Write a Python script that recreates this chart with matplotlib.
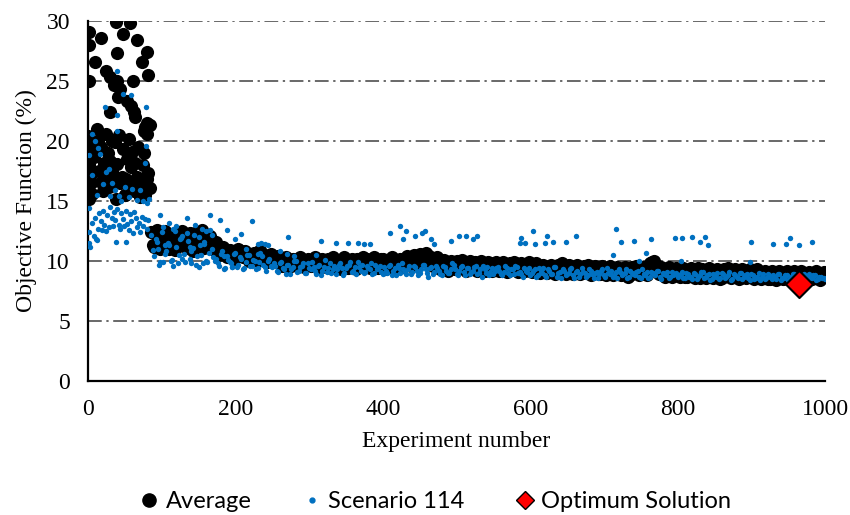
import numpy as np
import matplotlib.pyplot as plt
from matplotlib.lines import Line2D

# Average - first random experiments (x, y)
avg_start_x = [1, 1, 1, 9, 18, 38, 57, 48, 39, 66, 80, 73, 82, 61, 25, 30, 35, 39, 41, 43,
               59, 62, 30, 80, 76, 78, 53, 64, 84, 80,
               0, 1, 2, 3, 4, 2, 5, 6, 8, 12, 14, 15, 17, 18, 20, 22, 24, 25, 27,
               28, 30, 32, 33, 35, 36, 38, 40, 42, 44, 46, 48, 50, 51, 53, 55, 57, 58, 60,
               62, 64, 66, 68, 70, 72, 74, 76, 78, 80, 82, 84, 75, 50]
avg_start_y = [29.1, 28.0, 25.0, 26.6, 28.6, 29.9, 29.8, 28.9, 27.3, 28.4, 27.4, 26.6, 25.5, 25.0, 25.8,
               25.3, 24.7, 25.0, 23.7, 24.3, 22.9, 22.4, 22.4, 21.5, 20.8, 21.2, 23.3, 22.0, 21.3, 20.6,
               20.4, 19.8, 18.0, 17.1, 16.5, 15.2, 15.6, 19.2, 18.7, 21.0, 20.0, 17.5, 16.6, 19.5,
               15.8, 18.2, 20.6, 17.0, 19.0, 16.2, 18.3, 20.0, 17.5, 16.8, 19.9, 15.2, 18.1, 20.5,
               16.5, 17.0, 19.3, 15.5, 16.8, 18.5, 20.2, 16.4, 17.8, 19.1, 15.8, 18.2, 17.0, 19.5,
               15.3, 16.5, 18.0, 19.0, 15.5, 16.8, 17.3, 16.1, 15.8, 15.5]

# Average - experiments 85 to 995 (every 5), two passes
avg_band_start = 85
avg_band_y = [12.4, 11.2, 12.1, 11.6, 12.5, 11.0, 11.8, 12.2, 11.4, 12.0, 11.1, 11.9, 12.3, 11.5, 12.6, 11.3, 12.1, 11.2,
              11.1, 10.6, 11.0, 10.4, 10.8, 10.5, 10.9, 10.3, 10.6, 10.2, 10.7, 10.4, 10.1, 10.5, 10.2, 10.4,
              10.0, 10.3, 9.8, 10.2, 9.9, 10.1, 9.7, 10.2, 9.9, 10.0,
              9.8, 10.1, 9.6, 9.9, 10.2, 9.7, 9.9, 10.0, 9.6, 10.1, 9.8, 9.7, 10.2, 9.9, 9.6, 10.0, 9.8, 10.1, 9.7, 10.2, 9.9, 9.6, 10.0, 9.8,
              10.1, 9.7, 10.2, 9.9, 10.4, 10.6, 10.3, 9.9, 10.1, 9.7,
              9.9, 9.5, 9.8, 9.4, 9.7, 10.0, 9.5, 9.8, 9.3, 9.6, 9.9, 9.4, 9.7, 9.5, 9.8, 9.3, 9.6, 9.4, 9.7, 9.2, 9.5, 9.8, 9.3, 9.6, 9.4, 9.6,
              9.3, 9.6, 9.1, 9.4, 9.2, 9.5, 9.0, 9.3, 9.6, 9.1, 9.4, 9.2, 9.5, 9.0, 9.3, 9.1, 9.4, 9.2, 8.9, 9.3,
              9.1, 9.4, 8.9, 9.2, 9.0, 9.3, 8.8, 9.1, 9.4, 9.0, 9.2, 9.6, 9.9, 9.3, 8.9, 9.1, 8.8, 9.2, 9.0, 8.9,
              9.1, 8.7, 9.0, 8.8, 9.2, 8.6, 8.9, 9.1, 8.7, 9.0, 8.8, 8.6, 9.1, 8.9, 8.7, 9.0, 8.6, 8.8, 9.1, 8.7,
              8.9, 8.6, 8.8, 9.0, 8.5, 8.7, 8.9, 8.6, 8.8, 8.5, 8.7, 8.9, 8.6, 8.8, 8.5, 8.7, 8.9, 8.6, 8.8]
avg_band2_start = 88
avg_band2_y = [11.3, 12.6, 11.0, 12.4, 11.5, 12.2, 10.9, 11.6, 12.5, 11.2, 12.3, 10.8, 11.7, 12.4, 11.1, 12.0, 11.0, 11.6,
               10.5, 11.2, 10.3, 10.9, 10.2, 11.0, 10.4, 10.8, 10.0, 10.6, 10.1, 10.9, 10.3, 9.9, 10.6, 10.0,
               10.4, 9.6, 10.3, 9.5, 10.2, 9.6, 10.3, 9.5, 10.2, 9.6,
               10.3, 9.4, 10.2, 9.5, 9.4, 10.3, 9.5, 9.3, 10.3, 9.4, 10.2, 9.3, 9.5, 10.3, 10.2, 9.4, 10.3, 9.4, 10.2, 9.3, 9.5, 10.3, 9.4, 10.2,
               9.5, 10.4, 9.6, 10.5, 9.8, 10.2, 10.7, 10.4, 9.6, 10.3,
               9.3, 10.1, 9.2, 10.0, 9.3, 9.4, 10.1, 9.2, 10.0, 9.3, 9.2, 10.0, 9.2, 9.9, 9.2, 9.9, 9.2, 9.9, 9.1, 9.8, 9.9, 9.1, 9.8, 9.2, 9.9, 9.1,
               9.8, 9.0, 9.7, 9.0, 9.7, 8.9, 9.7, 9.8, 8.9, 9.7, 8.9, 9.7, 8.9, 9.6, 9.7, 8.8, 9.6, 8.9, 9.6, 8.8,
               9.6, 8.8, 9.5, 8.8, 9.5, 8.7, 9.5, 9.6, 8.8, 9.5, 8.8, 9.8, 10.0, 9.6, 9.5, 8.7, 9.5, 8.7, 9.4, 8.7,
               9.4, 8.7, 9.4, 8.6, 9.4, 9.3, 8.6, 9.4, 8.6, 9.3, 8.5, 9.3, 9.4, 8.6, 9.3, 8.5, 9.3, 8.6, 9.3, 8.5,
               9.3, 8.5, 9.2, 8.5, 9.2, 8.4, 9.2, 8.5, 9.2, 8.4, 9.2, 8.5, 9.2, 8.4, 9.1, 8.5, 9.2, 8.4, 9.1]

# Scenario 114 - scattered points (x, y)
sc_extra_x = [1, 3, 2, 5, 8, 9, 11, 13, 15, 17, 19, 21, 22, 24, 26, 28, 30, 32, 34, 35, 37, 38, 40, 42,
              44, 45, 47, 49, 51, 53, 55, 57, 59, 61, 63, 65, 67, 69, 71, 73, 75, 78, 80, 82,
              40, 59, 47, 23, 79, 39, 40, 79, 78, 16, 5, 1, 5, 12, 2, 9, 14, 24, 28, 33, 36, 42, 50,
              55, 60, 66, 70, 75, 83, 20, 30, 80, 45, 52, 12,
              98, 134, 166, 179, 189, 207, 222, 235, 244, 110, 120, 145, 155, 102, 115, 128, 140, 150,
              160, 125, 105, 95, 138, 158, 168, 200, 215, 230, 260, 195, 185, 270, 280, 231, 240, 309,
              272, 316, 337, 353, 367, 374, 383, 410, 424, 432, 427, 444, 453, 457, 465, 469, 493, 503,
              513, 522, 528, 586, 587, 593, 604, 606, 620, 623, 631, 649, 662, 717, 723, 741, 764, 713,
              757, 747, 796, 806, 819, 831, 837, 841, 804, 900, 930, 947, 953, 965, 983, 898]
sc_extra_y = [11.5, 11.2, 12.4, 13.2, 12.1, 13.6, 11.8, 12.7, 14.0, 13.3, 12.6, 14.2, 13.0, 12.5, 13.8,
              12.8, 14.5, 13.6, 12.9, 14.1, 13.4, 11.6, 14.3, 13.0, 12.7, 14.0, 13.5, 12.9, 14.2, 13.1,
              12.6, 13.9, 13.3, 12.3, 14.1, 13.6, 12.8, 13.2, 12.4, 13.7, 12.9, 13.5, 12.7, 13.4,
              25.8, 23.8, 23.9, 22.8, 22.8, 22.2, 20.8, 19.6, 18.2, 18.9, 20.6, 18.8, 17.2, 15.5, 14.4,
              20.0, 19.4, 17.4, 17.7, 16.5, 15.9, 15.4, 16.2, 15.3, 16.0, 15.1, 15.9, 15.0, 15.2, 16.4,
              15.4, 14.8, 15.0, 11.6, 11.75,
              13.8, 13.55, 13.8, 13.4, 12.6, 12.25, 13.3, 11.5, 11.3, 13.2, 12.9, 13.0, 12.7, 9.9, 9.6,
              10.2, 9.8, 9.5, 10.0, 11.8, 11.3, 11.0, 11.2, 11.6, 12.2, 11.8, 11.0, 10.6, 10.8, 9.5, 10.4,
              10.6, 10.4, 11.4, 11.4, 10.5,
              12.0, 11.7, 11.5, 11.5, 11.5, 11.4, 11.4, 12.3, 12.9, 12.5, 11.8, 12.1, 12.3, 12.5, 11.8,
              11.4, 11.7, 12.1, 12.1, 11.8, 12.1, 11.5, 11.9, 11.5, 12.5, 11.4, 11.5, 12.1, 11.6, 11.6,
              12.1, 12.7, 11.6, 11.7, 11.8, 10.5, 10.7, 10.0, 11.9, 11.9, 12.0, 11.6, 12.0, 11.3, 10.0,
              11.6, 11.4, 11.4, 11.9, 11.3, 11.6, 9.9]

# Scenario 114 - experiments 86 to 998 (every 4), two passes
sc_band_start = 86
sc_band_y = [12.2, 10.4, 11.6, 9.9, 12.8, 10.8, 11.3, 10.1, 12.5, 9.8, 11.9, 10.6, 12.3, 10.2, 11.1, 9.7, 12.0, 10.5, 11.4, 9.9, 12.6, 10.3,
             10.2, 9.6, 10.8, 9.4, 10.1, 9.8, 10.6, 9.5, 10.3, 9.3, 9.9, 10.5, 9.6, 10.0, 9.4, 10.7, 9.7, 9.2, 10.2, 9.5,
             9.6, 9.1, 9.9, 9.3, 9.7, 8.9, 9.5, 10.0, 9.2, 9.6, 9.0, 9.8, 9.3, 9.5, 8.9, 9.7, 9.2, 10.1, 9.4, 9.0, 9.6,
             9.3, 9.8, 8.8, 9.4, 9.7, 9.1, 9.5, 9.9, 9.2, 9.0, 9.6, 9.3, 8.9, 9.7, 9.4, 9.1,
             9.5, 9.0, 9.7, 9.2, 8.8, 9.4, 9.8, 9.1, 9.3, 8.9, 9.6, 9.2, 9.0, 9.7, 9.3, 8.7, 9.5, 9.1, 9.4, 8.9,
             9.6, 9.2, 9.0, 9.8, 9.3, 8.8, 9.5, 9.1, 9.4, 8.9, 9.2, 9.6, 9.0, 8.7, 9.3, 9.5, 9.1, 8.9, 9.4, 9.2,
             8.8, 9.6, 9.0, 9.3, 8.9, 9.5, 9.1, 8.7, 9.2, 9.4,
             9.0, 9.3, 8.8, 9.1, 9.4, 8.7, 9.2, 8.9, 9.5, 9.0, 8.6, 9.2, 8.9, 9.3, 8.8, 9.1, 8.7, 9.4, 9.0, 8.8,
             9.2, 8.6, 9.1, 8.9, 9.3, 8.7, 9.0, 9.2, 8.8, 8.6, 9.1, 8.9, 9.3, 8.7, 9.0, 8.8, 9.2, 8.6, 8.9, 9.1,
             8.7, 9.0, 8.8, 9.2, 8.5, 8.9, 9.1, 8.7, 8.8, 9.0,
             8.8, 9.1, 8.6, 8.9, 8.7, 9.0, 8.5, 8.8, 9.1, 8.7, 8.9, 8.5, 8.8, 9.0, 8.6, 8.9, 8.7, 9.1, 8.5, 8.8,
             8.6, 9.0, 8.7, 8.9, 8.4, 8.8, 8.6, 9.0, 8.7, 8.5, 8.9, 8.7, 8.8, 8.5, 8.9, 8.6, 8.8, 8.4, 8.7, 8.9,
             8.6, 8.8, 8.5, 8.7, 8.9, 8.6, 8.8, 8.5, 8.7, 8.6]
sc_band2_start = 88
sc_band2_y = [10.9, 11.8, 9.7, 12.4, 10.6, 11.5, 10.0, 12.7, 11.2, 10.5, 12.1, 9.9, 11.7, 10.8, 12.2, 10.4, 11.3, 9.8, 12.5, 10.7, 11.0, 10.0,
              9.8, 10.6, 9.3, 10.4, 9.9, 9.5, 10.7, 9.7, 10.2, 9.4, 10.5, 9.6, 10.1, 9.3, 9.9, 10.4, 9.5, 10.0, 9.6, 9.8,
              9.2, 9.8, 9.4, 8.9, 9.7, 9.3, 10.0, 9.1, 9.5, 9.8, 9.0, 9.4, 9.9, 9.2, 9.6, 8.8, 9.5, 9.1, 9.8, 9.3, 8.9,
              9.7, 9.4, 9.0, 9.6, 9.9, 9.2, 8.9, 9.5, 9.7, 9.1, 9.4, 9.8, 9.0, 9.3, 9.6, 8.9,
              9.2, 9.6, 8.8, 9.4, 9.7, 9.0, 9.3, 8.9, 9.6, 9.1, 9.5, 8.8, 9.3, 9.7, 9.0, 9.4, 8.9, 9.6, 9.2, 8.8,
              9.5, 9.0, 9.3, 9.7, 8.9, 9.2, 9.6, 8.8, 9.4, 9.1, 9.5, 8.9, 9.3, 9.6, 9.0, 8.8, 9.4, 9.2, 9.5, 8.9,
              9.1, 9.4, 8.8, 9.3, 9.6, 9.0, 8.9, 9.4, 9.1, 8.8,
              9.2, 8.7, 9.4, 9.0, 8.8, 9.3, 8.9, 9.5, 8.7, 9.1, 9.3, 8.8, 9.0, 9.4, 8.6, 9.2, 8.9, 9.1, 8.7, 9.3,
              8.9, 9.0, 8.6, 9.2, 8.8, 9.4, 8.9, 8.7, 9.1, 9.3, 8.8, 9.0, 8.6, 9.2, 8.9, 9.1, 8.7, 9.3, 8.8, 8.6,
              9.1, 8.9, 9.2, 8.7, 9.0, 8.8, 8.6, 9.1, 8.9, 8.7,
              8.9, 8.6, 9.0, 8.7, 8.5, 8.9, 8.7, 9.1, 8.6, 8.8, 8.4, 8.9, 8.7, 8.5, 9.0, 8.6, 8.8, 8.4, 8.9, 8.7,
              9.0, 8.5, 8.8, 8.6, 8.9, 8.5, 8.7, 8.4, 8.9, 8.6, 8.8, 8.5, 8.7, 8.9, 8.4, 8.6, 8.8, 8.5, 8.9, 8.6,
              8.4, 8.7, 8.9, 8.5, 8.6, 8.8, 8.4, 8.7, 8.6, 8.5]

# optimum
opt_x = [965]
opt_y = [8.1]

avg_x = np.concatenate([avg_start_x,
                        avg_band_start + 5 * np.arange(len(avg_band_y)),
                        avg_band2_start + 5 * np.arange(len(avg_band2_y))])
avg_y = np.concatenate([avg_start_y, avg_band_y, avg_band2_y])
sc_x = np.concatenate([sc_extra_x,
                       sc_band_start + 4 * np.arange(len(sc_band_y)),
                       sc_band2_start + 4 * np.arange(len(sc_band2_y))])
sc_y = np.concatenate([sc_extra_y, sc_band_y, sc_band2_y])

blue = '#0070C0'
plt.rcParams['font.family'] = 'Liberation Serif'

fig = plt.figure(figsize=(8.5, 5.15), dpi=100)
ax = fig.add_axes([88/850, 1-381/515, 737/850, 360/515])

ax.scatter(avg_x, avg_y, s=90, color='black', zorder=3, linewidths=0)
ax.scatter(sc_x, sc_y, s=15, color=blue, zorder=4, linewidths=0)
ax.scatter(opt_x, opt_y, s=190, marker='D', color='red', edgecolors='black', linewidths=1.5, zorder=5)

ax.set_xlim(0, 1000)
ax.set_ylim(0, 30)
ax.set_xticks([0, 200, 400, 600, 800, 1000])
ax.set_yticks([0, 5, 10, 15, 20, 25, 30])
ax.tick_params(length=0, labelsize=17)
ax.tick_params(axis='x', pad=13)
ax.tick_params(axis='y', pad=13)
for yy in [5, 10, 15, 20, 25, 30]:
    ax.axhline(yy, color='#404040', lw=1.1, ls=(0, (9, 3, 1.5, 3)), zorder=1)
for s in ['top', 'right']:
    ax.spines[s].set_visible(False)
for s in ['left', 'bottom']:
    ax.spines[s].set_linewidth(1.6)
ax.set_xlabel('Experiment number', fontsize=17, labelpad=8)
ax.set_ylabel('Objective Function (%)', fontsize=17, labelpad=7)

handles = [Line2D([], [], ls='', marker='o', color='black', markersize=9.5),
           Line2D([], [], ls='', marker='o', color=blue, markersize=3.5),
           Line2D([], [], ls='', marker='D', markerfacecolor='red', markeredgecolor='black', markersize=9.5)]
leg = ax.legend(handles, ['Average', 'Scenario 114', 'Optimum Solution'], loc='center',
                bbox_to_anchor=(0.472, -0.335), ncol=3, frameon=False, handlelength=0.7,
                handletextpad=0.35, columnspacing=2.2, prop={'family': 'Lato', 'size': 17})

plt.savefig('out.png', dpi=100)
